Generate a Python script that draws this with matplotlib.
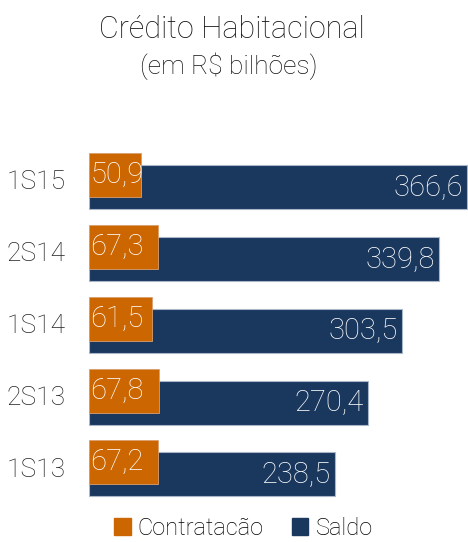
import numpy as np
import matplotlib
matplotlib.use('Agg')
import matplotlib.pyplot as plt
from matplotlib.patches import Patch

plt.rcParams['font.family'] = ['Roboto', 'DejaVu Sans']
plt.rcParams['font.weight'] = 'light'

periodos = ['1S13', '2S13', '1S14', '2S14', '1S15']
contratacao = [67.2, 67.8, 61.5, 67.3, 50.9]
saldo = [238.5, 270.4, 303.5, 339.8, 366.6]

cor_contr = '#CC6600'
cor_saldo = '#1A375E'

fig = plt.figure(figsize=(4.68, 5.42), dpi=100)
ax = fig.add_axes([0.1902, 0.0683, 0.8098, 0.655])

y = np.arange(len(periodos))
h = 0.612
off = 0.167

ax.barh(y, saldo, height=h, color=cor_saldo, edgecolor='#a9b6c8', linewidth=0.8, zorder=2)
ax.barh(y + off, contratacao, height=h, color=cor_contr, edgecolor='#d9a070', linewidth=0.6, zorder=3)

for yi, c, s in zip(y, contratacao, saldo):
    ax.text(1.5, yi + off, f'{c:.1f}'.replace('.', ','), color='white', fontsize=21,
            ha='left', va='center', zorder=4)
    ax.text(s - 4, yi - 0.01, f'{s:.1f}'.replace('.', ','), color='white', fontsize=21,
            ha='right', va='center', zorder=4)

ax.set_xlim(0, 367.6)
ax.set_ylim(-0.424, 4.513)
ax.set_yticks(y + 0.1)
ax.set_yticklabels(periodos, fontsize=19, color='#222222')
ax.tick_params(axis='y', length=0, pad=17)
ax.set_xticks([])
for sp in ax.spines.values():
    sp.set_visible(False)

fig.text(0.495, 0.946, 'Crédito Habitacional', ha='center', va='center', fontsize=22,
         color='#111111')
fig.text(0.488, 0.878, '(em R$ bilhões)', ha='center', va='center', fontsize=19,
         color='#111111')

handles = [Patch(color=cor_contr), Patch(color=cor_saldo)]
fig.legend(handles, ['Contratacão', 'Saldo'], loc='lower center', bbox_to_anchor=(0.52, -0.022),
           ncol=2, frameon=False, handlelength=0.7, handleheight=0.7, borderpad=0.1,
           handletextpad=0.3, columnspacing=1.2, prop={'size': 17, 'weight': 'light'})

fig.savefig('out.png', dpi=100)
